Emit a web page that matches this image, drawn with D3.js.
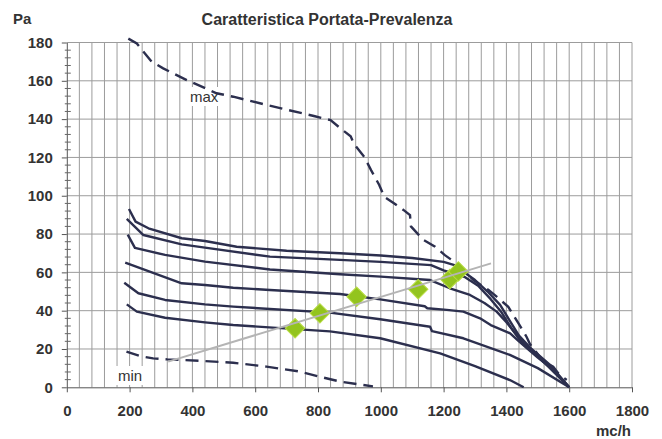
<!DOCTYPE html>
<html>
<head>
<meta charset="utf-8">
<script src="https://cdn.jsdelivr.net/npm/d3@7"></script>
<style>
body { margin: 0; background: #fff; }
text { font-family: "Liberation Sans", Arial, sans-serif; fill: #333; }
</style>
</head>
<body>
<div id="chart"></div>
<script>
const xTicks = [0, 200, 400, 600, 800, 1000, 1200, 1400, 1600, 1800]
const yTicks = [0, 20, 40, 60, 80, 100, 120, 140, 160, 180]

// curve di velocita' (portata mc/h, prevalenza Pa)
const speed1 = [[198,93.1],[219,86.5],[260,83],[366,77.8],[440,76.4],[541,73.4],[700,71.3],[870,70],[1000,68.8],[1100,67.5],[1200,65.5],[1240,63.5],[1270,59.5],[1300,56],[1340,50],[1380,43],[1410,35],[1440,27],[1480,20],[1540,11.5],[1600,0]]
const speed2 = [[191,87.9],[244,79.5],[366,74.6],[440,72.9],[647,68.2],[870,66.5],[1000,65.5],[1160,63.8],[1200,61],[1266,57.7],[1310,53],[1350,46],[1385,39],[1415,31],[1450,23],[1500,16],[1550,9],[1600,0]]
const speed3 = [[194,79.7],[217,72.8],[313,69.1],[440,65.6],[647,61.5],[870,59],[1000,57.8],[1157,56],[1220,51.7],[1284,48.2],[1330,44],[1369,39.5],[1400,34],[1422,29.5],[1460,22],[1520,13],[1600,0]]
const speed4 = [[186,65.1],[366,54.3],[440,53.4],[530,52],[647,50.8],[870,48.7],[998,45.9],[1140,42.3],[1148,41.3],[1210,40.4],[1263,39.5],[1316,36],[1350,32.5],[1412,28.2],[1440,24],[1500,15.5],[1550,9],[1600,0]]
const speed5 = [[183,54.6],[228,49.1],[313,45.6],[440,43.3],[530,42.1],[838,39],[998,35.5],[1157,31.6],[1163,29.3],[1263,25.6],[1411,16.9],[1500,10],[1600,0]]
const speed6 = [[191,43.3],[223,39.5],[313,36.3],[440,33.9],[530,32.5],[838,29.2],[998,25.6],[1189,17.7],[1300,11],[1411,3.8],[1455,0]]

const maxCurve = [[196,182],[223,179.5],[270,170],[307,166.5],[382,160.4],[477,153.5],[530,151.7],[636,147.4],[790,141.5],[840,139.5],[873,135],[904,131],[915,127],[947,120.4],[969,113.4],[995,105.6],[1011,99.5],[1043,96],[1072,92.6],[1093,89.9],[1096,84],[1135,77],[1173,73.4],[1204,69],[1241,64.7],[1295,56],[1343,50.8],[1369,47.3],[1406,42],[1440,33],[1464,26.4],[1475,22.6],[1518,13.4],[1549,10.8],[1565,7.3],[1592,3.8]]
const minCurve = [[190,18.6],[233,16.3],[275,15.1],[320,14.6],[430,13.8],[530,12.8],[636,10.8],[743,8.2],[806,5.5],[870,3],[975,0.5]]

const systemLine = [[323,13.4],[1351,64.7]]
const workPoints = [[727,30.8],[806,38.6],[923,47.3],[1119,51.2],[1220,56.5],[1247,60.5]]

var width = 662, height = 439
const svg = d3.select('#chart').append('svg').attr('width', width).attr('height', height)

const x = d3.scaleLinear().domain([0, 1800]).range([66.8, 632])
const y = d3.scaleLinear().domain([0, 180]).range([387.3, 42.5])

const gridColor = '#9c9c9c'
const ink = '#2c2f4e'

// griglia
svg.append('g').selectAll('line')
    .data(d3.range(40, 1801, 40)).enter()
    .append('line')
    .attr('x1', d => x(d)).attr('x2', d => x(d))
    .attr('y1', y(0)).attr('y2', y(180))
    .attr('stroke', gridColor).attr('stroke-width', 1)
svg.append('g').selectAll('line')
    .data(yTicks.slice(1)).enter()
    .append('line')
    .attr('x1', x(0)).attr('x2', x(1800))
    .attr('y1', d => y(d)).attr('y2', d => y(d))
    .attr('stroke', gridColor).attr('stroke-width', 1)

// assi
const xAxis = svg.append('g')
    .attr('transform', `translate(0,${y(0)})`)
    .call(d3.axisBottom(x).tickValues(xTicks).tickFormat(d3.format('d')).tickSize(5).tickPadding(13).tickSizeOuter(0))
const yAxis = svg.append('g')
    .attr('transform', `translate(${x(0)},0)`)
    .call(d3.axisLeft(y).tickValues(yTicks).tickFormat(d3.format('d')).tickSize(5).tickPadding(9).tickSizeOuter(0))
;[xAxis, yAxis].forEach(a => {
    a.selectAll('path, line').attr('stroke', '#555')
    a.selectAll('text').style('font-size', '15px').style('font-weight', 'bold').attr('fill', '#333')
})
svg.append('g').selectAll('line')
    .data(d3.range(0, 181, 4).filter(d => d % 20 != 0)).enter()
    .append('line')
    .attr('x1', x(0) - 2).attr('x2', x(0) + 4)
    .attr('y1', d => y(d)).attr('y2', d => y(d))
    .attr('stroke', '#666')

// riquadri bianchi delle etichette
svg.append('rect').attr('x', 186).attr('y', 87).attr('width', 36).attr('height', 19).attr('fill', '#fff')
svg.append('rect').attr('x', 115).attr('y', 366).attr('width', 35).attr('height', 19).attr('fill', '#fff')

const line = d3.line().x(d => x(d[0])).y(d => y(d[1]))

svg.append('g').selectAll('path')
    .data([speed1, speed2, speed3, speed4, speed5, speed6]).enter()
    .append('path')
    .attr('d', line)
    .attr('fill', 'none')
    .attr('stroke', ink)
    .attr('stroke-width', 2.4)
    .attr('stroke-linejoin', 'round')

svg.append('g').selectAll('path')
    .data([maxCurve, minCurve]).enter()
    .append('path')
    .attr('d', line)
    .attr('fill', 'none')
    .attr('stroke', ink)
    .attr('stroke-width', 2.4)
    .attr('stroke-dasharray', '13,7')

svg.append('g').selectAll('path')
    .data(workPoints).enter()
    .append('path')
    .attr('d', d3.symbol(d3.symbolSquare, 190))
    .attr('transform', d => `translate(${x(d[0])},${y(d[1])}) rotate(45)`)
    .attr('fill', '#93c41e')
    .attr('stroke', '#b9dc45')
    .attr('stroke-width', 1)

svg.append('path')
    .attr('d', line(systemLine))
    .attr('fill', 'none')
    .attr('stroke', '#b4b4b4')
    .attr('stroke-width', 2)

// testi
svg.append('text').attr('x', 327).attr('y', 25).attr('text-anchor', 'middle')
    .style('font-size', '16px').style('font-weight', 'bold')
    .text('Caratteristica Portata-Prevalenza')
svg.append('text').attr('x', 13).attr('y', 24)
    .style('font-size', '15px').style('font-weight', 'bold').text('Pa')
svg.append('text').attr('x', 631).attr('y', 436).attr('text-anchor', 'end')
    .style('font-size', '15px').style('font-weight', 'bold').text('mc/h')
svg.append('text').attr('x', 190).attr('y', 102)
    .style('font-size', '15px').text('max')
svg.append('text').attr('x', 118).attr('y', 381)
    .style('font-size', '15px').text('min')
</script>
</body>
</html>
